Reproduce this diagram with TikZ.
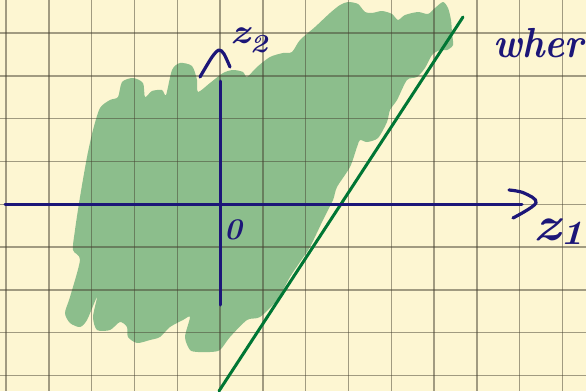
\documentclass[tikz,border=0pt]{standalone}
\begin{document}
\begin{tikzpicture}[x=1pt,y=-1pt]
\definecolor{paper}{RGB}{253,246,210}
\definecolor{ink}{RGB}{28,22,120}
\definecolor{blobc}{RGB}{140,190,140}
\definecolor{gridc}{RGB}{70,66,50}
\definecolor{lineg}{RGB}{0,118,52}
\tikzset{
  gridline/.style={draw=gridc, opacity=0.5, line width=1.4pt},
  axisline/.style={draw=ink, line width=3pt, line cap=round},
  tipstroke/.style={draw=ink, line width=3.2pt, line cap=round, line join=round},
  handtext/.style={text=ink, inner sep=0pt},
}
\useasboundingbox (0,0) rectangle (586,391);
\clip (0,0) rectangle (586,391);
\fill[paper] (0,0) rectangle (586,391);
% shaded region
\fill[blobc] plot[smooth cycle, tension=0.45] coordinates {
 (65,313) (70,297) (80,260) (73,250) (75,230) (80,197) (87,157) (93,130)
 (100,108) (110,100) (118,97) (122,82) (133,78) (143,83) (145,97) (152,91)
 (162,90) (166,95) (172,70) (180,63) (192,66) (197,80) (198,92) (210,83)
 (223,73) (233,70) (243,72) (247,77) (257,67) (270,57) (283,53) (292,52)
 (300,40) (315,27) (330,13) (340,5) (348,2) (358,4) (365,12) (372,13)
 (382,11) (392,14) (398,20) (405,15) (418,12) (428,14) (435,8) (443,2)
 (448,8) (451,20) (452,33) (453,45) (447,50) (440,50) (432,55) (425,68)
 (417,77) (407,80) (397,100) (390,110) (387,122) (378,138) (367,142) (360,140)
 (357,147) (350,167) (337,187) (333,200) (323,220) (310,247) (300,262) (290,277)
 (277,300) (260,317) (247,320) (230,337) (220,350) (210,352) (198,352) (190,350)
 (185,337) (190,317) (183,320) (170,327) (160,337) (150,340) (137,343) (128,337)
 (127,327) (120,322) (110,330) (97,330) (93,317) (97,297) (87,320) (80,327)
 (70,323)};
% grid
\foreach \i in {0,...,13} \draw[gridline] ({6+42.8*\i},0) -- ({6+42.8*\i},391);
\foreach \j in {0,...,8} \draw[gridline] (0,{33+42.8*\j}) -- (586,{33+42.8*\j});
% green line
\coordinate (gA) at (219,391);
\coordinate (gB) at (463,17);
\draw[draw=lineg, line width=3pt, line cap=round] (gA) -- (gB);
% axes
\coordinate (xL) at (5,204);
\coordinate (xR) at (522,204);
\coordinate (yB) at (220,305);
\coordinate (yT) at (220,81);
\draw[axisline] (xL) -- (xR);
\draw[axisline] (yB) -- (yT);
% hand-drawn arrow tips
\draw[tipstroke] plot[smooth, tension=0.6] coordinates {(509,190) (524,193) (536,203) (513,218)};
\draw[tipstroke] plot[smooth, tension=0.5] coordinates {(200,77) (212,57) (219,50) (224,54) (230,67)};
% labels
\node[handtext, anchor=base west] (lz2) at (230,43) {\scalebox{1.15}[1]{\fontsize{35}{35}\selectfont\bfseries\itshape z\raisebox{-0.28em}{\fontsize{26}{26}\selectfont 2}}};
\node[handtext, anchor=base west] (lz1) at (533,240) {\scalebox{1.15}[1]{\fontsize{48}{48}\selectfont\bfseries\itshape z\raisebox{-0.1em}{\fontsize{34}{34}\selectfont 1}}};
\node[handtext, anchor=center] (l0) at (233,230) {\fontsize{30}{30}\selectfont\bfseries\itshape 0};
\node[handtext, anchor=base west] (lw) at (493,57) {\scalebox{0.9}[1]{\fontsize{42}{42}\selectfont\bfseries\itshape wher}};
\end{tikzpicture}
\end{document}
